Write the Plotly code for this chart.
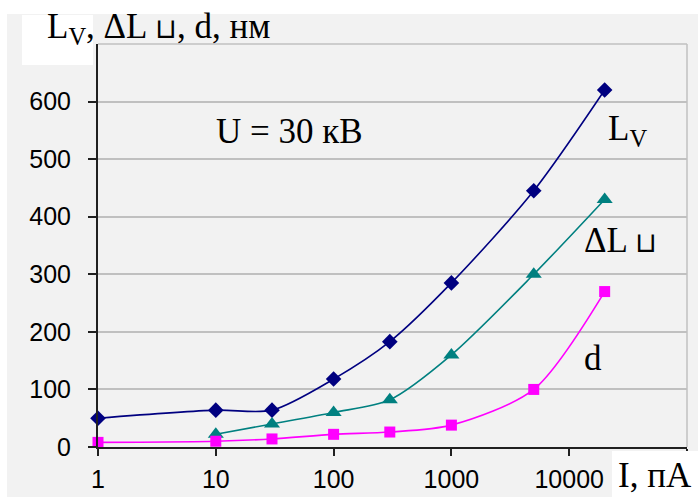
import plotly.graph_objects as go

# Data
current_pa = [1, 10, 30, 100, 300, 1000, 5000, 20000]
lv_nm = [50, 64, 64, 118, 183, 285, 445, 620]
dl_x = [10, 30, 100, 300, 1000, 5000, 20000]
dl_nm = [22, 40, 60, 82, 160, 300, 430]
d_nm = [8, 10, 14, 22, 26, 38, 100, 270]

y_ticks = [0, 100, 200, 300, 400, 500, 600]
x_ticks = [1, 10, 100, 1000, 10000, 100000]
x_ticktext = ["1", "10", "100", "1000", "10000", ""]

W, H = 698, 497
L, R, T, B = 98, 11, 44, 50
PW, PH = W - L - R, H - T - B

def px(x):
    return (x - L) / PW

def py(y):
    return (H - B - y) / PH

SERIF = "Liberation Serif, Times New Roman, serif"
SANS = "Liberation Sans, Arial, sans-serif"
CUP = "<span style='font-size:28px'>⊔</span>"

fig = go.Figure()
fig.add_trace(go.Scatter(x=current_pa, y=lv_nm, mode="lines+markers",
                         line=dict(color="#000080", width=1.6, shape="spline", smoothing=0.8),
                         marker=dict(symbol="diamond", size=12, color="#000080"),
                         cliponaxis=False, showlegend=False))
fig.add_trace(go.Scatter(x=dl_x, y=dl_nm, mode="lines+markers",
                         line=dict(color="#008080", width=1.6, shape="spline", smoothing=0.8),
                         marker=dict(symbol="triangle-up", size=14, color="#008080"),
                         cliponaxis=False, showlegend=False))
fig.add_trace(go.Scatter(x=current_pa, y=d_nm, mode="lines+markers",
                         line=dict(color="#ff00ff", width=1.6, shape="spline", smoothing=0.8),
                         marker=dict(symbol="square", size=11, color="#ff00ff"),
                         cliponaxis=False, showlegend=False))

shapes = [
    dict(type="rect", xref="paper", yref="paper", x0=px(0), x1=px(W), y0=py(14), y1=py(0),
         fillcolor="white", line=dict(width=0), layer="below"),
    dict(type="rect", xref="paper", yref="paper", x0=px(0), x1=px(7), y0=py(H), y1=py(0),
         fillcolor="white", line=dict(width=0), layer="below"),
    dict(type="rect", xref="paper", yref="paper", x0=px(22), x1=px(93), y0=py(65), y1=py(15),
         fillcolor="white", line=dict(width=0), layer="above"),
    dict(type="rect", xref="paper", yref="paper", x0=px(612), x1=px(W), y0=py(H), y1=py(451),
         fillcolor="white", line=dict(width=0), layer="above"),
    dict(type="line", xref="paper", yref="paper", x0=0, x1=1, y0=1, y1=1,
         line=dict(color="#c0c0c0", width=1.5)),
    dict(type="line", xref="paper", yref="paper", x0=1, x1=1, y0=0, y1=1,
         line=dict(color="#c0c0c0", width=1.5)),
]

annotations = [
    dict(text="L<sub>V</sub>, ΔL " + CUP + ", d, нм", xref="paper", yref="paper",
         x=px(45), y=py(28), xanchor="left", yanchor="middle", showarrow=False,
         font=dict(family=SERIF, size=35, color="black")),
    dict(text="I, пА", xref="paper", yref="paper",
         x=px(616), y=py(476), xanchor="left", yanchor="middle", showarrow=False,
         font=dict(family=SERIF, size=35, color="black")),
    dict(text="U = 30 кВ", xref="paper", yref="paper",
         x=px(214), y=py(131), xanchor="left", yanchor="middle", showarrow=False,
         font=dict(family=SERIF, size=35, color="black")),
    dict(text="L<sub>V</sub>", xref="paper", yref="paper",
         x=px(606), y=py(130), xanchor="left", yanchor="middle", showarrow=False,
         font=dict(family=SERIF, size=35, color="black")),
    dict(text="ΔL " + CUP, xref="paper", yref="paper",
         x=px(582), y=py(241), xanchor="left", yanchor="middle", showarrow=False,
         font=dict(family=SERIF, size=35, color="black")),
    dict(text="d", xref="paper", yref="paper",
         x=px(582), y=py(358), xanchor="left", yanchor="middle", showarrow=False,
         font=dict(family=SERIF, size=35, color="black")),
]

fig.update_layout(
    width=W, height=H,
    margin=dict(l=L, r=R, t=T, b=B, pad=0, autoexpand=False),
    paper_bgcolor="#f2f2f2", plot_bgcolor="#f2f2f2",
    shapes=shapes, annotations=annotations,
    xaxis=dict(type="log", range=[0, 5], tickvals=x_ticks, ticktext=x_ticktext,
               automargin=False,
               showgrid=False, zeroline=False, showline=True, linecolor="#202020", linewidth=2,
               ticks="outside", ticklen=7, tickcolor="#202020", tickwidth=1.5,
               tickfont=dict(family=SANS, size=25, color="black"), ticklabelstandoff=2),
    yaxis=dict(range=[0, 700], tickvals=y_ticks, automargin=False,
               showgrid=True, gridcolor="#c0c0c0", gridwidth=1.5,
               zeroline=False, showline=True, linecolor="#202020", linewidth=2,
               ticks="outside", ticklen=8, tickcolor="#202020", tickwidth=1.5,
               tickfont=dict(family=SANS, size=25, color="black"), ticklabelstandoff=12),
)

fig.write_html("out.html")
